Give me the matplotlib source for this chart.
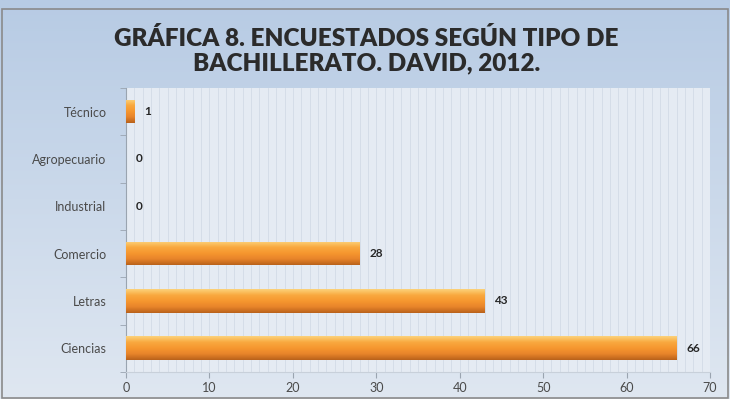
import numpy as np
import matplotlib
matplotlib.use("Agg")
import matplotlib.pyplot as plt
from matplotlib.colors import LinearSegmentedColormap

categorias = ["Ciencias", "Letras", "Comercio", "Industrial", "Agropecuario", "Técnico"]
valores = [66, 43, 28, 0, 0, 1]
xticks = [0, 10, 20, 30, 40, 50, 60, 70]
titulo = "GRÁFICA 8. ENCUESTADOS SEGÚN TIPO DE\nBACHILLERATO. DAVID, 2012."

plt.rcParams["font.family"] = ["Lato", "DejaVu Sans"]

fig = plt.figure(figsize=(7.3, 3.99), dpi=100)

# fondo degradado de la figura
bg = fig.add_axes([0, 0, 1, 1], zorder=-10)
grad = np.linspace(0, 1, 256).reshape(-1, 1)
cmap_bg = LinearSegmentedColormap.from_list("bg", ["#b7cbe4", "#dfe7f1"])
bg.imshow(grad, aspect="auto", cmap=cmap_bg, extent=[0, 1, 0, 1])
bg.set_axis_off()
bg.add_patch(plt.Rectangle((0.003, 0.003), 0.994, 0.975, fill=False,
                           edgecolor="#8a8a8a", linewidth=1.2, transform=bg.transAxes))

ax = fig.add_axes([0.1726, 0.0677, 0.80, 0.7118])
ax.set_facecolor("#e5ebf3")

y = np.arange(len(categorias))
bars = ax.barh(y, valores, height=0.5, color="#f4922f", edgecolor="none", zorder=3)

# degradado naranja dentro de cada barra (claro arriba, oscuro abajo)
cmap_bar = LinearSegmentedColormap.from_list(
    "bar", ["#b9621b", "#e8842a", "#f6972f", "#f9a93f", "#fcd27a"])
for b in bars:
    w = b.get_width()
    if w <= 0:
        continue
    y0 = b.get_y()
    h = b.get_height()
    im = ax.imshow(np.linspace(1, 0, 64).reshape(-1, 1), aspect="auto", cmap=cmap_bar,
                   extent=[0, w, y0, y0 + h], zorder=4, origin="upper")
    im.set_clip_path(b)

for yi, v in zip(y, valores):
    ax.annotate(str(v), (v, yi), xytext=(7, 0), textcoords="offset points",
                va="center", ha="left", fontsize=8.5, fontweight="bold", color="#262626")

ax.set_xlim(0, 70)
ax.set_ylim(-0.5, len(categorias) - 0.5)
ax.set_xticks(xticks)
ax.set_xticks(np.arange(0, 71, 1), minor=True)
ax.set_yticks(y)
ax.set_yticklabels(categorias)
ax.set_yticks(np.arange(-0.5, len(categorias), 1), minor=True)
ax.grid(axis="x", which="both", color="#d3dbe6", linewidth=0.6, zorder=0)
ax.set_axisbelow(True)

ax.tick_params(axis="y", which="major", length=0, labelsize=9, labelcolor="#4a4a4a", pad=14)
ax.tick_params(axis="y", which="minor", length=4, color="#9aa4b0", direction="out")
ax.tick_params(axis="x", which="major", length=4, color="#9aa4b0", labelsize=9,
               labelcolor="#4a4a4a", pad=3)
ax.tick_params(axis="x", which="minor", length=0)

for s in ["top", "right"]:
    ax.spines[s].set_visible(False)
ax.spines["left"].set_color("#9aa4b0")
ax.spines["bottom"].set_color("#c8d0da")

fig.text(0.502, 0.873, titulo, ha="center", va="center", fontsize=17.5,
         fontweight="heavy", color="#2b2b2b", linespacing=1.15)

fig.savefig("out.png", dpi=100)
